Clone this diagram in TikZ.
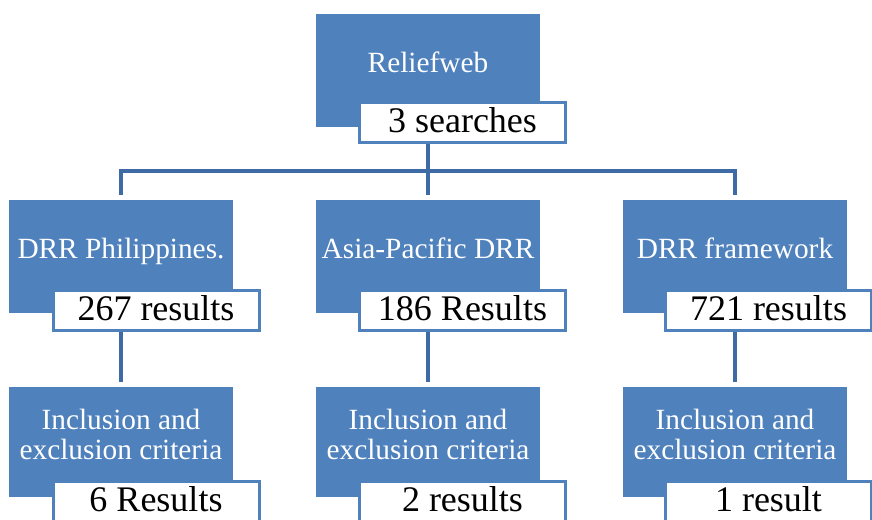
\documentclass[tikz,border=0pt]{standalone}
\usepackage{fontspec}
\setmainfont{Liberation Serif}
\usetikzlibrary{calc}
\definecolor{boxblue}{RGB}{79,129,189}
\definecolor{linkblue}{RGB}{62,106,165}

\begin{document}
\begin{tikzpicture}[x=0.75pt,y=-0.75pt,
      topic/.style={rectangle,fill=boxblue,minimum width=168pt,inner sep=0pt},
      topictext/.style={text=white,font=\fontsize{22}{22.5}\selectfont,
        align=center,inner sep=0pt},
      count/.style={rectangle,draw=boxblue,line width=2.25pt,fill=white,
        minimum width=154.5pt,minimum height=30pt,inner sep=0pt,
        text height=18.4pt,text depth=3.4pt,
        font=\fontsize{27}{30}\selectfont},
      link/.style={draw=linkblue,line width=2.6pt}]
      \useasboundingbox (0,0) rectangle (872,519);

      % top
      \node[topic,minimum height=84.75pt] (rw) at (428,70) {};
      \node[topictext,anchor=base] (rw-t) at (428,72) {Reliefweb};
      \node[count] (rw-n) at (462.5,122.5) {3 searches};

      % searches
      \node[topic,minimum height=84.75pt] (dp) at (121,256.5) {};
      \node[topic,minimum height=84.75pt] (ap) at (428,256.5) {};
      \node[topic,minimum height=84.75pt] (fw) at (735,256.5) {};
      \node[topictext,anchor=base] (dp-t) at (121,258) {DRR Philippines.};
      \node[topictext,anchor=base] (ap-t) at (428,258) {Asia-Pacific DRR};
      \node[topictext,anchor=base] (fw-t) at (735,258) {DRR framework};
      \node[count] (dp-n) at (156,310) {267 results};
      \node[count] (ap-n) at (462.5,310) {186 Results};
      \node[count] (fw-n) at (768.5,310) {721 results};

      % criteria
      \node[topic,minimum height=82.5pt] (dp-c) at (121,442) {};
      \node[topic,minimum height=82.5pt] (ap-c) at (428,442) {};
      \node[topic,minimum height=82.5pt] (fw-c) at (735,442) {};
      \node[topictext] (dp-ct) at (121,434) {Inclusion and\\exclusion criteria};
      \node[topictext] (ap-ct) at (428,434) {Inclusion and\\exclusion criteria};
      \node[topictext] (fw-ct) at (735,434) {Inclusion and\\exclusion criteria};
      \node[count] (dp-r) at (156,501.5) {6 Results};
      \node[count] (ap-r) at (462.5,501.5) {2 results};
      \node[count] (fw-r) at (768.5,501.5) {1 result};

      \coordinate (bar) at (428,171);
      \draw[link] (rw |- rw-n.south) -- (bar);
      \draw[link,shorten >=3.5pt] (bar) -| (dp.north);
      \draw[link,shorten >=3.5pt] (bar) -- (ap.north);
      \draw[link,shorten >=3.5pt] (bar) -| (fw.north);

      \draw[link,shorten >=3.5pt] (dp |- dp-n.south) -- (dp-c.north);
      \draw[link,shorten >=3.5pt] (ap |- ap-n.south) -- (ap-c.north);
      \draw[link,shorten >=3.5pt] (fw |- fw-n.south) -- (fw-c.north);
\end{tikzpicture}
\end{document}
